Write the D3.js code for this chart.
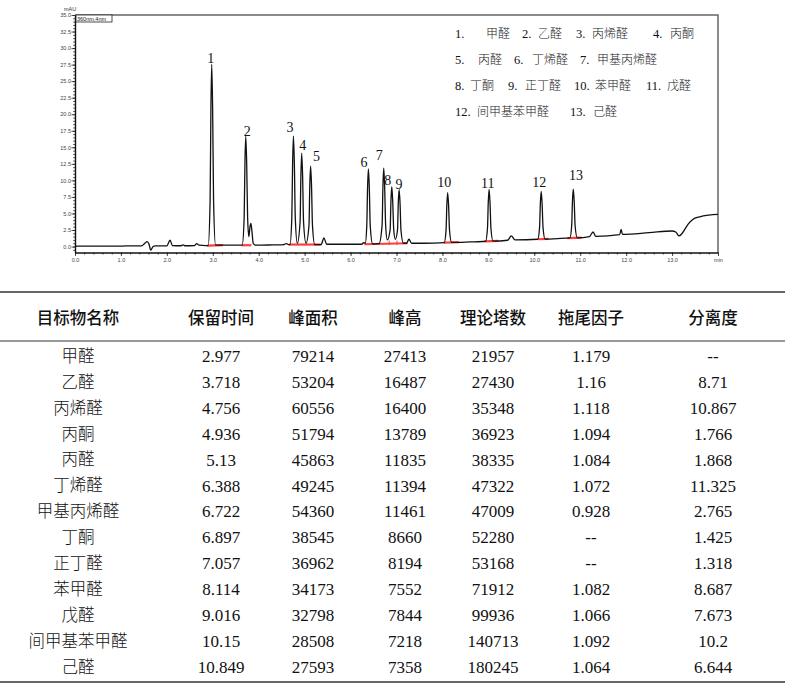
<!DOCTYPE html>
<html>
<head>
<meta charset="utf-8">
<script src="https://cdn.jsdelivr.net/npm/d3@7"></script>
<style>
  body { margin: 0; background: #fff; }
  .serif { font-family: "Liberation Serif", "Noto Sans CJK SC", serif; }
  .cjk { font-family: "Noto Sans CJK SC", sans-serif; }
</style>
</head>
<body>
<div class="view"></div>
<script>
// 目标物 / 表格数据
const names = ['甲醛', '乙醛', '丙烯醛', '丙酮', '丙醛', '丁烯醛', '甲基丙烯醛', '丁酮', '正丁醛', '苯甲醛', '戊醛', '间甲基苯甲醛', '己醛']
const retention = [2.977, 3.718, 4.756, 4.936, 5.13, 6.388, 6.722, 6.897, 7.057, 8.114, 9.016, 10.15, 10.849]
const area = [79214, 53204, 60556, 51794, 45863, 49245, 54360, 38545, 36962, 34173, 32798, 28508, 27593]
const height = [27413, 16487, 16400, 13789, 11835, 11394, 11461, 8660, 8194, 7552, 7844, 7218, 7358]
const plates = [21957, 27430, 35348, 36923, 38335, 47322, 47009, 52280, 53168, 71912, 99936, 140713, 180245]
const tailing = [1.179, 1.16, 1.118, 1.094, 1.084, 1.072, 0.928, null, null, 1.082, 1.066, 1.092, 1.064]
const resolution = [null, 8.71, 10.867, 1.766, 1.868, 11.325, 2.765, 1.425, 1.318, 8.687, 7.673, 10.2, 6.644]
const headers = ['目标物名称', '保留时间', '峰面积', '峰高', '理论塔数', '拖尾因子', '分离度']

// 色谱图 [min, mAU]
const trace = [
  [0, 0.05], [0.5, 0.05], [1.0, 0.05], [1.1, 0.1], [1.45, 0.1], [1.52, 0.5], [1.57, 0.75], [1.61, 0.4],
  [1.65, -0.55], [1.70, 0.0], [1.75, 0.1], [2.0, 0.1], [2.07, 0.95], [2.12, 0.15], [2.3, 0.12], [2.35, 0.25],
  [2.4, 0.12], [2.6, 0.15], [2.65, 0.45], [2.7, 0.2], [2.85, 0.15],
  [2.90, 0.15], [2.942, 7.0], [2.959, 20.7], [2.977, 27.56], [2.997, 20.7], [3.017, 7.0], [3.06, 0.2],
  [3.5, 0.2], [3.64, 0.2], [3.683, 4.3], [3.700, 12.6], [3.718, 16.69], [3.738, 12.6], [3.758, 4.5], [3.785, 1.5],
  [3.81, 3.0], [3.83, 3.5], [3.85, 2.5], [3.88, 0.5], [3.93, 0.2], [4.3, 0.25], [4.55, 0.3], [4.6, 0.45], [4.65, 0.3],
  [4.68, 0.3], [4.721, 4.4], [4.738, 12.6], [4.756, 16.7], [4.776, 12.6], [4.796, 4.4], [4.84, 0.5],
  [4.901, 3.75], [4.918, 10.6], [4.936, 14.09], [4.956, 10.6], [4.976, 3.75], [5.03, 0.5],
  [5.095, 3.26], [5.112, 9.2], [5.13, 12.14], [5.15, 9.2], [5.17, 3.26], [5.22, 0.3],
  [5.36, 0.3], [5.42, 1.3], [5.48, 0.35], [6.0, 0.35], [6.25, 0.35], [6.28, 0.6], [6.32, 0.5],
  [6.353, 3.2], [6.370, 8.9], [6.388, 11.74], [6.408, 8.9], [6.428, 3.2], [6.48, 0.4],
  [6.62, 0.45], [6.687, 3.27], [6.704, 9.0], [6.722, 11.86], [6.742, 9.0], [6.765, 3.0], [6.80, 1.0],
  [6.862, 2.6], [6.879, 6.9], [6.897, 9.06], [6.917, 6.9], [6.94, 2.5], [6.975, 1.1],
  [7.022, 2.5], [7.039, 6.6], [7.057, 8.64], [7.077, 6.6], [7.097, 2.5], [7.15, 0.5],
  [7.22, 0.5], [7.27, 1.1], [7.33, 0.5], [7.6, 0.5],
  [8.04, 0.6], [8.079, 2.5], [8.096, 6.26], [8.114, 8.15], [8.134, 6.26], [8.154, 2.5], [8.20, 0.62],
  [8.6, 0.7], [8.94, 0.8], [8.981, 2.76], [8.998, 6.68], [9.016, 8.64], [9.036, 6.68], [9.056, 2.76], [9.10, 0.82],
  [9.42, 0.95], [9.5, 1.6], [9.58, 1.0],
  [10.075, 1.1], [10.115, 2.9], [10.132, 6.5], [10.15, 8.32], [10.17, 6.5], [10.19, 2.9], [10.235, 1.12],
  [10.5, 1.2], [10.775, 1.3], [10.814, 3.14], [10.831, 6.82], [10.849, 8.66], [10.869, 6.82], [10.889, 3.14], [10.935, 1.32],
  [11.2, 1.5], [11.28, 2.2], [11.34, 1.55], [11.86, 1.8], [11.89, 2.6], [11.92, 1.85],
  [12.5, 2.1], [13.0, 2.35], [13.08, 2.2], [13.15, 1.6], [13.22, 2.0], [13.35, 3.4], [13.45, 4.1],
  [13.6, 4.5], [13.8, 4.75], [14.0, 4.85]
]
// 积分基线 [起, 止, 起值, 止值]
const baselines = [
  [2.88, 3.22, 0.15, 0.2], [3.63, 3.84, 0.2, 0.2], [4.66, 5.35, 0.3, 0.3], [6.30, 7.24, 0.35, 0.5],
  [8.03, 8.36, 0.58, 0.65], [8.92, 9.22, 0.78, 0.85], [10.08, 10.31, 1.1, 1.15], [10.72, 11.03, 1.28, 1.35]
]
const dropLines = [6.84, 7.01]

const w = 793
const h = 699

const svg = d3.select('.view')
  .append('svg')
  .attr('width', w)
  .attr('height', h)

// 比例尺
const xScale = d3.scaleLinear().domain([0, 14]).range([75, 718])
const yScale = d3.scaleLinear().domain([-0.9, 35]).range([252.5, 15])

// 外框
svg.append('path')
  .attr('d', `M${xScale(0)},${yScale(35)}H${xScale(14)}V${yScale(-0.9)}`)
  .attr('fill', 'none')
  .attr('stroke', '#666')
  .attr('stroke-width', 1.5)

// 数轴
const fmt = d3.format('.1f')
const xMinor = svg.append('g')
  .attr('transform', 'translate(0,' + yScale(-0.9) + ')')
  .call(d3.axisBottom(xScale).tickValues(d3.range(0, 14.01, 0.2)).tickSize(2).tickSizeOuter(0).tickFormat(''))
xMinor.select('.domain').remove()

const xAxis = svg.append('g')
  .attr('transform', 'translate(0,' + yScale(-0.9) + ')')
  .call(d3.axisBottom(xScale).tickValues(d3.range(0, 15, 1)).tickSize(3.5).tickSizeOuter(0)
    .tickFormat((d) => d === 14 ? 'min' : fmt(d)))

const yMinor = svg.append('g')
  .attr('transform', 'translate(' + xScale(0) + ',0)')
  .call(d3.axisLeft(yScale).tickValues(d3.range(-0.5, 35.01, 0.5)).tickSize(1.8).tickSizeOuter(0).tickFormat(''))
yMinor.select('.domain').remove()

const yAxis = svg.append('g')
  .attr('transform', 'translate(' + xScale(0) + ',0)')
  .call(d3.axisLeft(yScale).tickValues(d3.range(0, 35.01, 2.5)).tickSize(3.5).tickSizeOuter(0).tickFormat(fmt))

svg.selectAll('.tick line').attr('stroke', '#222').attr('stroke-width', 0.8)
xAxis.select('.domain').attr('stroke', '#111').attr('stroke-width', 1.4)
yAxis.select('.domain').attr('stroke', '#111').attr('stroke-width', 1.4)
xAxis.selectAll('text').attr('y', 6).attr('font-size', 5.5).attr('fill', '#444').attr('font-family', 'Liberation Sans')
yAxis.selectAll('text').attr('x', -4).attr('font-size', 5.5).attr('fill', '#444').attr('font-family', 'Liberation Sans')

svg.append('text')
  .attr('x', 64).attr('y', 11)
  .attr('font-size', 5.5).attr('fill', '#333').attr('font-family', 'Liberation Sans')
  .text('mAU')

svg.append('rect')
  .attr('x', 76).attr('y', 15).attr('width', 36).attr('height', 7)
  .attr('fill', '#fff').attr('stroke', '#222').attr('stroke-width', 0.8)
svg.append('text')
  .attr('x', 77).attr('y', 21)
  .attr('font-size', 5.5).attr('fill', '#222').attr('font-family', 'Liberation Sans')
  .text('360nm,4nm')

// 红色积分基线
const line = d3.line().x((d) => xScale(d[0])).y((d) => yScale(d[1]))
svg.selectAll('.base')
  .data(baselines)
  .enter()
  .append('path')
  .attr('class', 'base')
  .attr('d', (d) => line([[d[0], d[2]], [d[1], d[3]]]))
  .attr('stroke', '#ff3d3d')
  .attr('stroke-width', 2.2)
  .attr('fill', 'none')

svg.selectAll('.drop')
  .data(dropLines)
  .enter()
  .append('line')
  .attr('x1', (d) => xScale(d)).attr('x2', (d) => xScale(d))
  .attr('y1', yScale(0.45) + 1.5).attr('y2', yScale(0.45) - 3)
  .attr('stroke', '#ff3d3d')
  .attr('stroke-width', 1)

// 色谱曲线
svg.append('path')
  .datum(trace)
  .attr('d', line.curve(d3.curveMonotoneX))
  .attr('fill', 'none')
  .attr('stroke', '#111')
  .attr('stroke-width', 1.3)

// 峰号（相对峰顶的偏移，像素）
const labelOffset = [
  [-1, -1.5], [1.5, 0], [-3.4, -3.7], [1, -3.3], [6, -5], [-4.4, -2], [-4.4, -8],
  [-4, -1.6], [0, 0], [-3.4, -6], [-1.3, -1], [-2, -4.2], [2.7, -9.2]
]
svg.selectAll('.peak-label')
  .data(retention)
  .enter()
  .append('text')
  .attr('class', 'serif')
  .attr('x', (d, i) => xScale(d) + labelOffset[i][0])
  .attr('y', (d, i) => yScale(trace.find((p) => p[0] === d)[1]) + labelOffset[i][1])
  .attr('text-anchor', 'middle')
  .attr('font-size', 14)
  .attr('fill', '#111')
  .text((d, i) => i + 1)

// 图例
const legendRowY = [38, 64, 90, 116]
const legendLayout = [
  [0, 455, 486], [0, 522, 538], [0, 576, 592], [0, 653, 670],
  [1, 455, 478], [1, 514, 532], [1, 580, 597],
  [2, 455, 470], [2, 508, 525], [2, 574, 595], [2, 646, 667],
  [3, 455, 477], [3, 570, 593]
]
const legend = svg.append('g')
  .selectAll('g')
  .data(names)
  .enter()
  .append('g')

legend.append('text')
  .attr('class', 'serif')
  .attr('x', (d, i) => legendLayout[i][1])
  .attr('y', (d, i) => legendRowY[legendLayout[i][0]])
  .attr('font-size', 12.5)
  .attr('fill', '#111')
  .text((d, i) => (i + 1) + '.')

legend.append('text')
  .attr('class', 'cjk')
  .attr('x', (d, i) => legendLayout[i][2])
  .attr('y', (d, i) => legendRowY[legendLayout[i][0]])
  .attr('font-size', 12)
  .attr('font-weight', 300)
  .attr('fill', '#222')
  .text((d) => d)

// 表格
const colX = [78, 221, 313, 405, 493, 591, 713]
const rowY = d3.scaleLinear().domain([0, names.length - 1]).range([356, 667])

svg.selectAll('.rule')
  .data([[292, 1.6], [341, 1.2], [682, 1.6]])
  .enter()
  .append('line')
  .attr('x1', 0).attr('x2', 785)
  .attr('y1', (d) => d[0]).attr('y2', (d) => d[0])
  .attr('stroke', '#333')
  .attr('stroke-width', (d) => d[1])

svg.selectAll('.th')
  .data(headers)
  .enter()
  .append('text')
  .attr('class', 'cjk')
  .attr('x', (d, i) => colX[i])
  .attr('y', 318)
  .attr('dy', '0.35em')
  .attr('text-anchor', 'middle')
  .attr('font-size', 16.5)
  .attr('font-weight', 500)
  .attr('fill', '#111')
  .text((d) => d)

const columns = [names, retention, area, height, plates, tailing, resolution]
columns.forEach((col, c) => {
  svg.selectAll('.td' + c)
    .data(col)
    .enter()
    .append('text')
    .attr('class', c === 0 ? 'cjk' : 'serif')
    .attr('x', colX[c])
    .attr('y', (d, i) => rowY(i))
    .attr('dy', '0.35em')
    .attr('text-anchor', 'middle')
    .attr('font-size', c === 0 ? 16.5 : 17)
    .attr('font-weight', c === 0 ? 300 : 400)
    .attr('fill', '#111')
    .text((d) => d === null ? '--' : d)
})
</script>
</body>
</html>
